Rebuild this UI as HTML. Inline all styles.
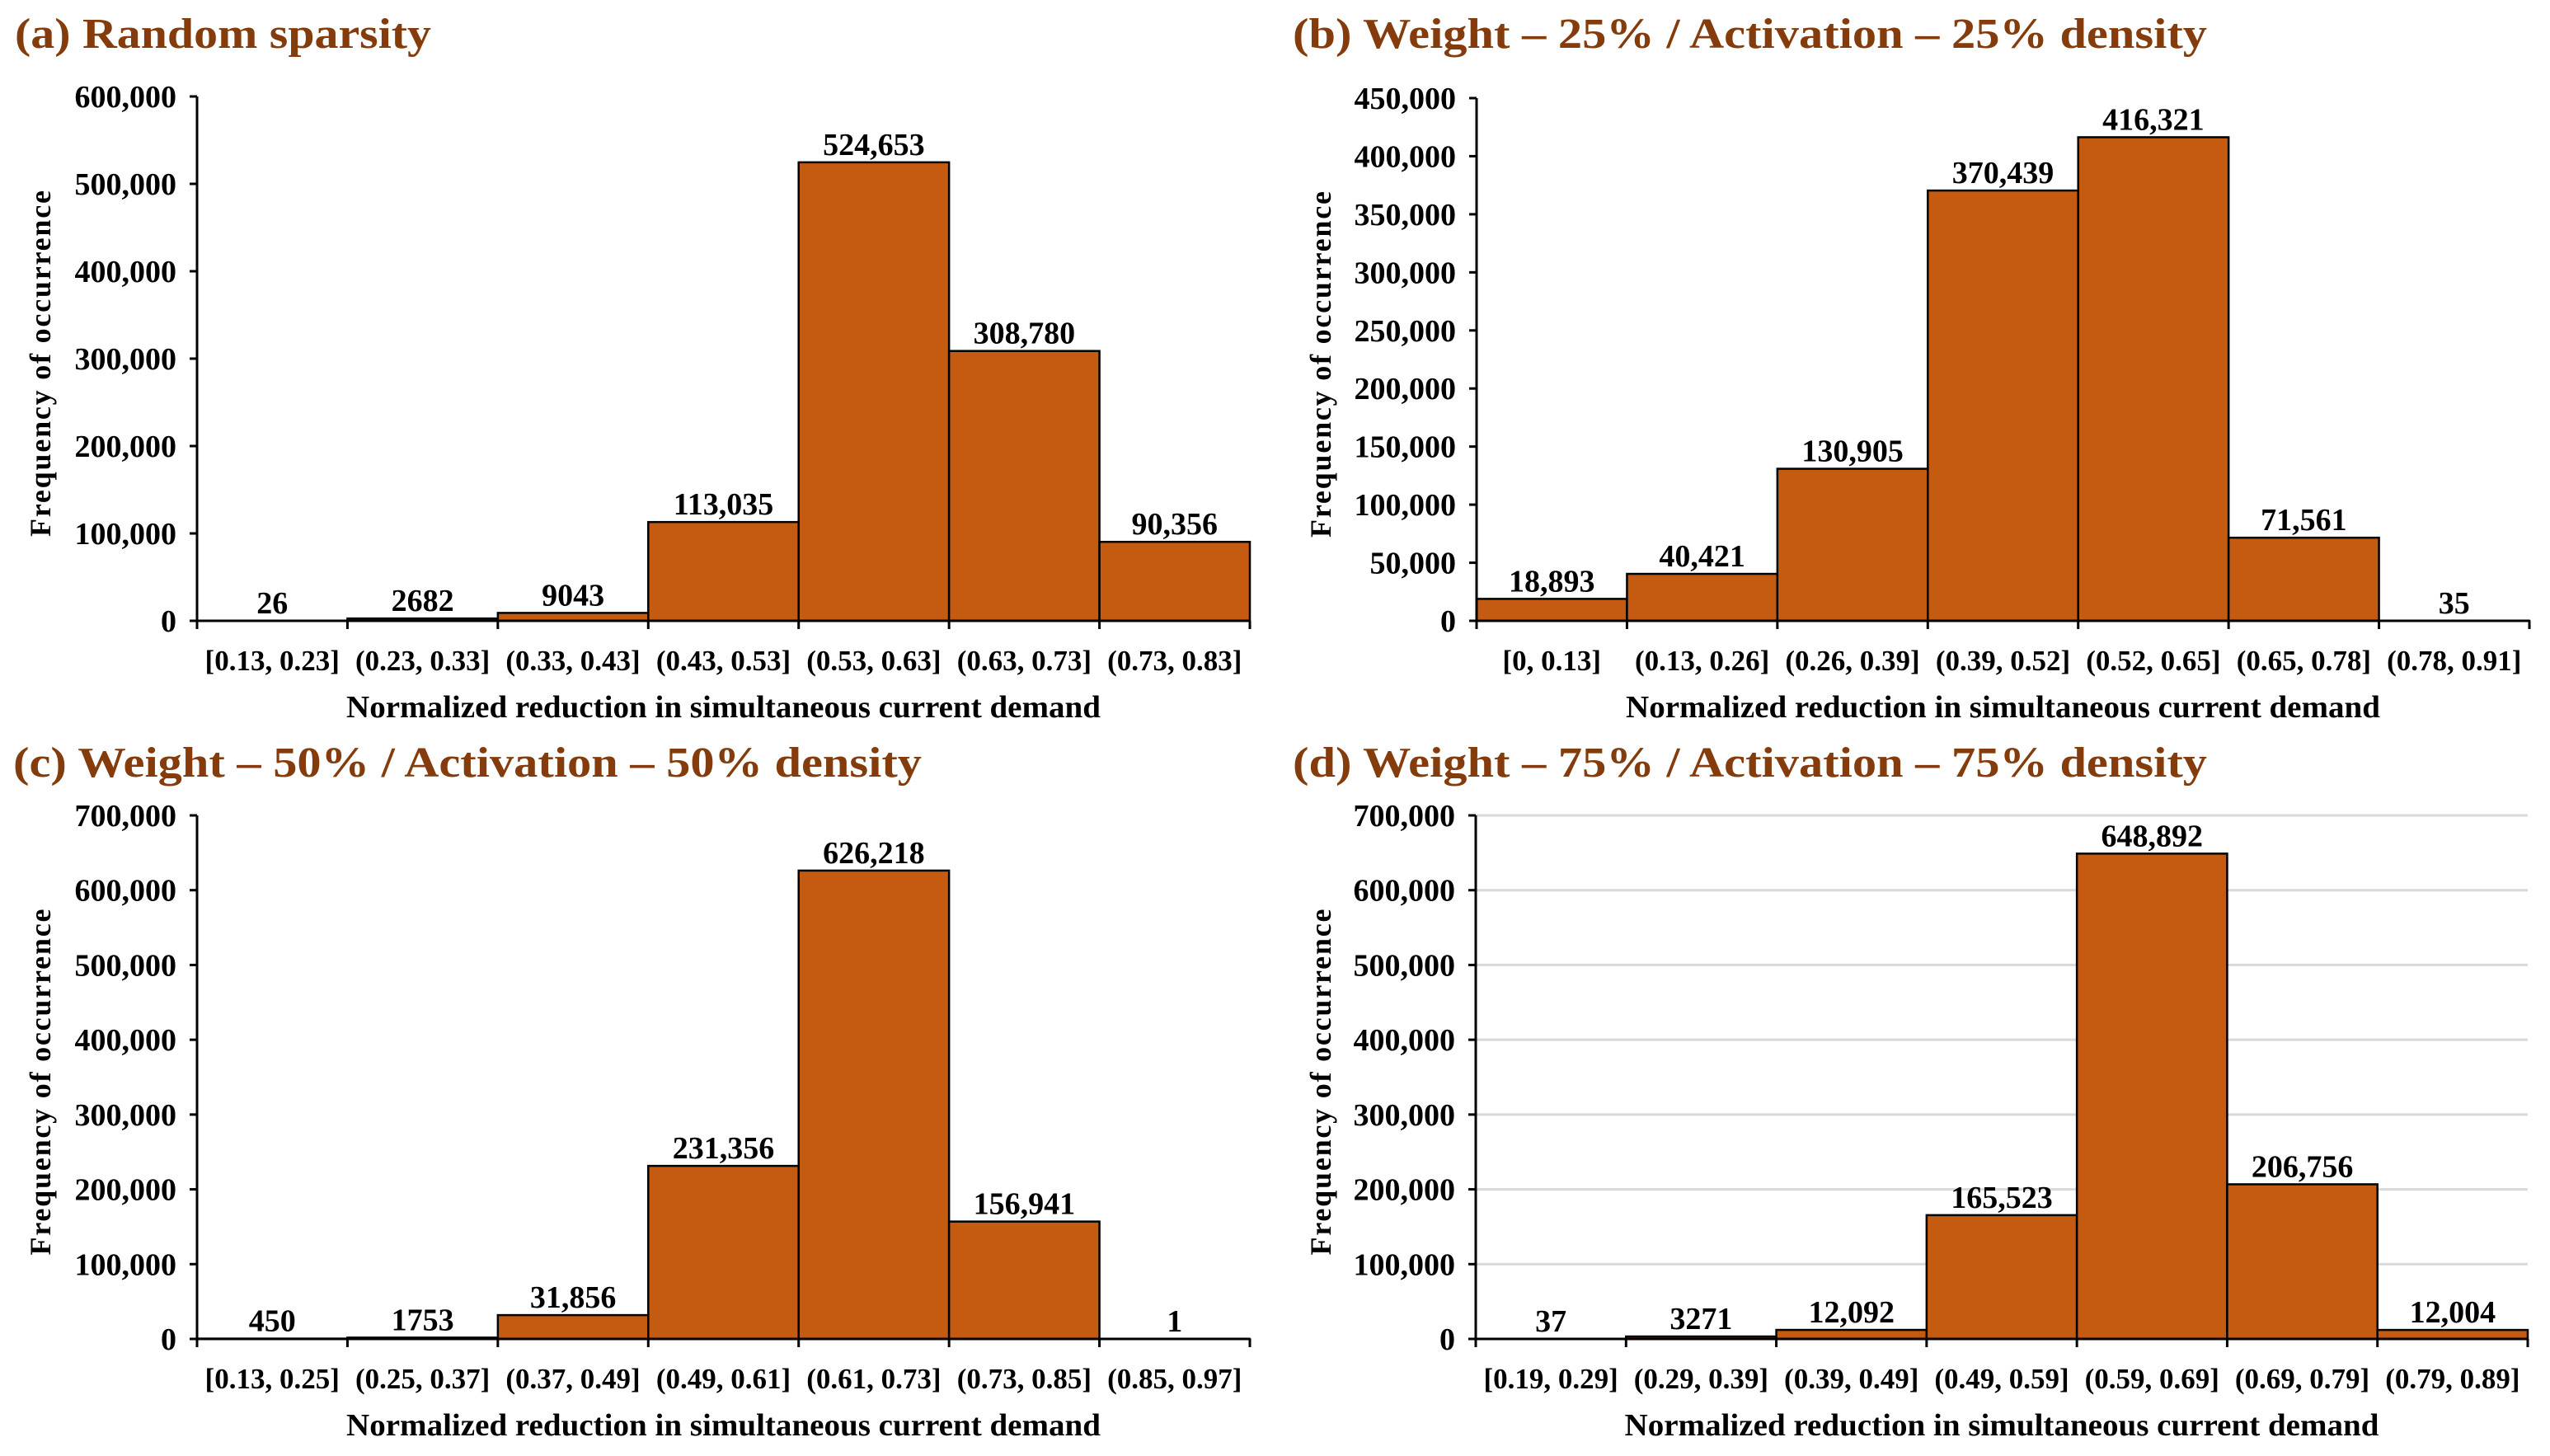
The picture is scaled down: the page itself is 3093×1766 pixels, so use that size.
<!DOCTYPE html>
<html><head><meta charset="utf-8"><style>
html,body{margin:0;padding:0;background:#fff}
svg{display:block}
text{font-family:"Liberation Serif","Times New Roman",serif;font-weight:bold}
</style></head><body>
<svg id="fig" width="3093" height="1766" viewBox="0 0 3093 1766" xmlns="http://www.w3.org/2000/svg"></svg>
<script>
const catsA = ["[0.13, 0.23]","(0.23, 0.33]","(0.33, 0.43]","(0.43, 0.53]","(0.53, 0.63]","(0.63, 0.73]","(0.73, 0.83]"];
const valsA = [26, 2682, 9043, 113035, 524653, 308780, 90356];
const ticksA = [0,100000,200000,300000,400000,500000,600000];
const catsB = ["[0, 0.13]","(0.13, 0.26]","(0.26, 0.39]","(0.39, 0.52]","(0.52, 0.65]","(0.65, 0.78]","(0.78, 0.91]"];
const valsB = [18893, 40421, 130905, 370439, 416321, 71561, 35];
const ticksB = [0,50000,100000,150000,200000,250000,300000,350000,400000,450000];
const catsC = ["[0.13, 0.25]","(0.25, 0.37]","(0.37, 0.49]","(0.49, 0.61]","(0.61, 0.73]","(0.73, 0.85]","(0.85, 0.97]"];
const valsC = [450, 1753, 31856, 231356, 626218, 156941, 1];
const ticksC = [0,100000,200000,300000,400000,500000,600000,700000];
const catsD = ["[0.19, 0.29]","(0.29, 0.39]","(0.39, 0.49]","(0.49, 0.59]","(0.59, 0.69]","(0.69, 0.79]","(0.79, 0.89]"];
const valsD = [37, 3271, 12092, 165523, 648892, 206756, 12004];
const ticksD = [0,100000,200000,300000,400000,500000,600000,700000];
const labelsD = ["37","3271","12,092","165,523","648,892","206,756","12,004"];
const labelsA = ["26","2682","9043","113,035","524,653","308,780","90,356"];
const labelsB = ["18,893","40,421","130,905","370,439","416,321","71,561","35"];
const labelsC = ["450","1753","31,856","231,356","626,218","156,941","1"];

const NS = "http://www.w3.org/2000/svg";
const svg = document.getElementById('fig');
function mk(tag, attrs, parent, txt){
  const e = document.createElementNS(NS, tag);
  for (const k in attrs) e.setAttribute(k, attrs[k]);
  if (txt !== undefined) e.textContent = txt;
  parent.appendChild(e);
  return e;
}
function fmt(v){return v.toLocaleString('en-US');}

function panel(o){
  const g = mk('g', {}, svg);
  
  
  const x0=o.x0, x1=o.x1, yb=o.yb, yt=o.yt, maxV=o.ticks[o.ticks.length-1];
  const ys = v => yb - (v/maxV)*(yb-yt);
  const bw = (x1-x0)/o.cats.length;
  const xs = i => x0 + i*bw;
  const t = mk('text', {x:o.tx, y:o.ty, 'font-size':52, fill:'#843C0C', textLength:o.tw, lengthAdjust:'spacingAndGlyphs'}, g, o.title);
  
  
  if (o.grid){
    o.ticks.forEach(v=>{ if(v===0) return;
      const l = mk('line', {x1:x0, x2:x1, y1:ys(v), y2:ys(v), stroke:'#d9d9d9', 'stroke-width':3}, g);
      
      
    });
  }
  o.ticks.forEach(v=>{
    const tk = mk('line', {x1:x0-9, x2:x0, y1:ys(v), y2:ys(v), stroke:'#000', 'stroke-width':3}, g);
    
    
    const tl = mk('text', {x:x0-25, y:ys(v)+13, 'font-size':38, 'text-anchor':'end'}, g, fmt(v));
    
    
  });
  o.vals.forEach((v,i)=>{
    const r = mk('rect', {x:xs(i), y:ys(v), width:bw, height:yb-ys(v), fill:'#C55A11', stroke:'#000', 'stroke-width':2.5}, g);
    
    
    const vl = mk('text', {x:xs(i)+bw/2, y:ys(v)-9, 'font-size':38, 'text-anchor':'middle'}, g, o.labels[i]);
    
    
    const tk = mk('line', {x1:xs(i+1), x2:xs(i+1), y1:yb, y2:yb+10, stroke:'#000', 'stroke-width':3}, g);
    
    
    const cl = mk('text', {x:xs(i)+bw/2, y:yb+60, 'font-size':35, 'text-anchor':'middle'}, g, o.cats[i]);
    
    
  });
  const ax = mk('line', {x1:x0, x2:x0, y1:yt, y2:yb+10, stroke:'#000', 'stroke-width':3}, g);
  
  
  const bx = mk('line', {x1:x0-9, x2:x1, y1:yb, y2:yb, stroke:'#000', 'stroke-width':3}, g);
  
  
  const xt = mk('text', {x:(x0+x1)/2, y:yb+117, 'font-size':38, 'text-anchor':'middle', textLength:915, lengthAdjust:'spacingAndGlyphs'}, g, 'Normalized reduction in simultaneous current demand');
  
  
  const cy = (yt+yb)/2 + 6;
  const yt2 = mk('text', {x:0, y:0, 'font-size':36, 'text-anchor':'middle', textLength:420, lengthAdjust:'spacing', transform:`translate(${o.ytx},${cy}) rotate(-90)`}, g, 'Frequency of occurrence');
  
  
}

panel({id:'panel-a', title:'(a) Random sparsity', tx:18, ty:58, tw:505, x0:239, x1:1516, yb:753, yt:117, cats:catsA, vals:valsA, ticks:ticksA, labels:labelsA, ytx:61, grid:false});
panel({id:'panel-b', title:'(b) Weight \u2013 25% / Activation \u2013 25% density', tx:1568, ty:58, tw:1109, x0:1791, x1:3068, yb:753, yt:119, cats:catsB, vals:valsB, ticks:ticksB, labels:labelsB, ytx:1614, grid:false});
panel({id:'panel-c', title:'(c) Weight \u2013 50% / Activation \u2013 50% density', tx:16, ty:942, tw:1102, x0:239, x1:1516, yb:1624, yt:989, cats:catsC, vals:valsC, ticks:ticksC, labels:labelsC, ytx:61, grid:false});
panel({id:'panel-d', title:'(d) Weight \u2013 75% / Activation \u2013 75% density', tx:1568, ty:942, tw:1109, x0:1790, x1:3066, yb:1624, yt:989, cats:catsD, vals:valsD, ticks:ticksD, labels:labelsD, ytx:1614, grid:true});
</script>
</body></html>
